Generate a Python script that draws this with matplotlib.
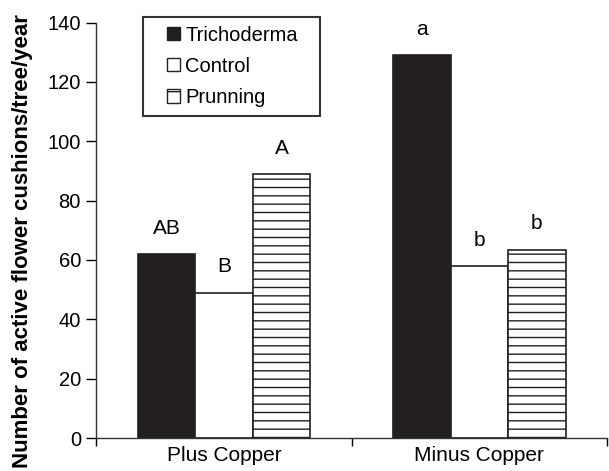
import matplotlib
matplotlib.use('Agg')
import matplotlib.pyplot as plt
from matplotlib.patches import Patch, Rectangle
from matplotlib.legend_handler import HandlerPatch
import numpy as np

plt.rcParams['font.family'] = ['Liberation Sans', 'DejaVu Sans']
plt.rcParams['hatch.linewidth'] = 1.0

groups = ['Plus Copper', 'Minus Copper']
treatments = ['Trichoderma', 'Control', 'Prunning']
values = {
    'Trichoderma': [62, 129],
    'Control': [49, 58],
    'Prunning': [89, 63.5],
}
letters = {
    'Trichoderma': ['AB', 'a'],
    'Control': ['B', 'b'],
    'Prunning': ['A', 'b'],
}
fills = {'Trichoderma': '#231f20', 'Control': 'white', 'Prunning': 'white'}
hatches = {'Trichoderma': None, 'Control': None, 'Prunning': '--'}

fig = plt.figure(figsize=(6.09, 4.71), dpi=100)
ax = fig.add_axes([0.158, 0.070, 0.839, 0.882])

centers = np.array([0.5, 1.5])
width = 0.225
for i, t in enumerate(treatments):
    xs = centers + (i - 1) * width
    ax.bar(xs, values[t], width=width, color=fills[t], edgecolor='#231f20',
           linewidth=1.2, hatch=hatches[t], zorder=2)
    for x, v, lab in zip(xs, values[t], letters[t]):
        ax.text(x, v + 5.5, lab, ha='center', va='bottom', fontsize=15)

ax.set_xlim(0, 2)
ax.set_ylim(0, 140)
ax.set_yticks(range(0, 141, 20))
ax.set_xticks([0, 1, 2])
ax.set_xticklabels([])
ax.set_xticks(centers, minor=True)
ax.set_xticklabels(groups, minor=True, fontsize=15)
ax.tick_params(axis='x', which='minor', length=0, pad=6)
ax.tick_params(axis='x', which='major', length=6, width=1, direction='out')
ax.tick_params(axis='y', length=7, width=1, direction='out', labelsize=14.5, pad=4)
for s in ['top', 'right']:
    ax.spines[s].set_visible(False)
for s in ['left', 'bottom']:
    ax.spines[s].set_linewidth(1)
    ax.spines[s].set_color('#333333')

ax.set_ylabel('Number of active flower cushions/tree/year', fontsize=16,
              fontweight='bold')
ax.yaxis.set_label_coords(-0.123, 0.473)


# small square at the right end of the handle box
def square_patch(legend, orig_handle, xdescent, ydescent, width, height, fontsize):
    side = 0.65 * fontsize
    return Rectangle((width - side - xdescent, (height - side) / 2 - ydescent),
                     side, side)


handles = [Patch(facecolor=fills[t], edgecolor='#231f20',
                 hatch='-' if hatches[t] else None, label=t)
           for t in treatments]
leg = ax.legend(handles=handles, loc='upper left',
                bbox_to_anchor=(0.091, 0.766, 0.347, 0.248), mode='expand',
                borderaxespad=0, fontsize=14.5, frameon=True, fancybox=False,
                edgecolor='black', handlelength=1.4, handleheight=0.7,
                handletextpad=0.25, labelspacing=0.6, borderpad=0.45,
                handler_map={Patch: HandlerPatch(patch_func=square_patch)})
leg.get_frame().set_linewidth(1.5)
leg.set_zorder(5)

fig.savefig('out.png', dpi=100)
